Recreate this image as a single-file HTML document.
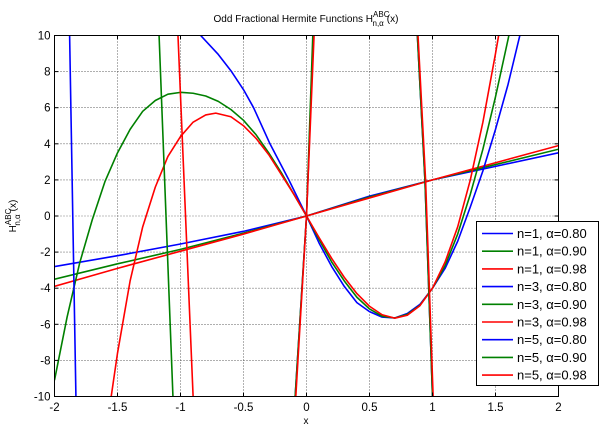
<!DOCTYPE html>
<html><head><meta charset="utf-8"><style>
html,body{margin:0;padding:0;background:#fff;overflow:hidden;width:601px;height:432px;}
svg{display:block;font-family:"Liberation Sans",Arial,sans-serif;}
</style></head><body>
<svg id="chart" width="601" height="432" viewBox="0 0 601 432">
<rect x="0" y="0" width="601" height="432" fill="#fff"/>
<defs><clipPath id="clip"><rect x="54.5" y="35.5" width="504" height="361"/></clipPath></defs>
<rect x="54.5" y="35.5" width="504" height="361" fill="#fff" stroke="none"/>
<g id="grid"></g>
<g id="series" clip-path="url(#clip)"></g>
<rect x="54.5" y="35.5" width="504" height="361" fill="none" stroke="#000" stroke-width="1"/>
<g id="ticks"></g>
<text x="306" y="22" font-size="10" text-anchor="middle">Odd Fractional Hermite Functions H<tspan font-size="8" dy="-5">ABC</tspan><tspan font-size="8" dx="-17" dy="9">n,α</tspan><tspan dy="-4" dx="3">(x)</tspan></text>
<text x="306" y="424" font-size="10" text-anchor="middle">x</text>
<text transform="translate(16,216) rotate(-90)" font-size="10" text-anchor="middle">H<tspan font-size="8" dy="-5">ABC</tspan><tspan font-size="8" dx="-17" dy="9">n,α</tspan><tspan dy="-4" dx="3">(x)</tspan></text>
<g id="legend"></g>
</svg>
<script>
const xTicks=[-2,-1.5,-1,-0.5,0,0.5,1,1.5,2];
const xTickLabels=["-2","-1.5","-1","-0.5","0","0.5","1","1.5","2"];
const yTicks=[-10,-8,-6,-4,-2,0,2,4,6,8,10];
const yTickLabels=["-10","-8","-6","-4","-2","0","2","4","6","8","10"];
const seriesNames=["n=1, α=0.80","n=1, α=0.90","n=1, α=0.98","n=3, α=0.80","n=3, α=0.90","n=3, α=0.98","n=5, α=0.80","n=5, α=0.90","n=5, α=0.98"];
const seriesColors=["#0000ff","#008000","#ff0000","#0000ff","#008000","#ff0000","#0000ff","#008000","#ff0000"];
const n1bX=[-2,-1.5,-1,-0.5,0,0.5,1,1.5,2];
const n1bY=[-2.8,-2.2,-1.55,-0.85,0,1.1,2,2.75,3.5];
const n1gX=[-2,-1.5,-1,-0.5,0,0.5,1,1.5,2];
const n1gY=[-3.5,-2.65,-1.85,-0.95,0,1.05,2,2.85,3.7];
const n1rX=[-2,-1.5,-1,-0.5,0,0.5,1,1.5,2];
const n1rY=[-3.9,-2.9,-1.95,-1,0,1,2,2.95,3.9];
const n3bX=[-0.84,-0.7,-0.6,-0.5,-0.42,-0.29,-0.14,0,0.1,0.2,0.3,0.4,0.5,0.6,0.7,0.8,0.9,1.0,1.1,1.2,1.3,1.4,1.5,1.6,1.7];
const n3bY=[10,8.95,8.05,7.0,6,4,2,0,-1.5,-2.8,-3.9,-4.8,-5.3,-5.6,-5.65,-5.4,-4.9,-4,-2.9,-1.4,0.5,2.5,4.8,7.3,10.2];
const n3gX=[-2,-1.9,-1.8,-1.7,-1.6,-1.5,-1.4,-1.3,-1.2,-1.1,-1.0,-0.9,-0.8,-0.7,-0.6,-0.5,-0.4,-0.3,-0.2,-0.1,0,0.1,0.2,0.3,0.4,0.5,0.6,0.7,0.8,0.9,1.0,1.1,1.2,1.3,1.4,1.5,1.6,1.63];
const n3gY=[-9.1,-5.6,-2.6,-0.2,1.9,3.5,4.8,5.8,6.4,6.75,6.85,6.8,6.65,6.35,5.9,5.3,4.5,3.5,2.4,1.2,0,-1.3,-2.55,-3.6,-4.5,-5.15,-5.55,-5.65,-5.45,-4.95,-4,-2.75,-1.0,1.2,3.7,6.6,9.8,10.8];
const n3rX=[-1.58,-1.55,-1.5,-1.4,-1.3,-1.2,-1.1,-1.0,-0.9,-0.8,-0.72,-0.6,-0.5,-0.4,-0.3,-0.2,-0.1,0,0.1,0.2,0.3,0.4,0.5,0.6,0.7,0.8,0.9,1.0,1.1,1.2,1.3,1.4,1.5,1.55];
const n3rY=[-11,-10,-7.6,-3.6,-0.6,1.6,3.3,4.4,5.2,5.6,5.7,5.5,5.0,4.3,3.4,2.3,1.2,0,-1.2,-2.35,-3.4,-4.3,-5,-5.47,-5.66,-5.5,-4.97,-4,-2.55,-0.6,2.0,5.2,9,11];
const n5bX=[-1.89,-1.88,-1.83,-1.828,-0.092,-0.09,0,0.055,0.06,0.875,0.88,0.94,0.97,1.0,1.005];
const n5bY=[11,10,-10,-11,-11,-10,0,10,11,11,10,2,-4,-10,-11];
const n5gX=[-1.175,-1.17,-1.06,-1.055,-0.092,-0.09,0,0.05,0.055,0.875,0.88,0.94,0.97,1.0,1.005];
const n5gY=[11,10,-10,-11,-11,-10,0,10,11,11,10,2,-4,-10,-11];
const n5rX=[-1.025,-1.02,-0.9,-0.895,-0.088,-0.085,0,0.06,0.065,0.88,0.885,0.945,0.975,1.005,1.01];
const n5rY=[11,10,-10,-11,-11,-10,0,10,11,11,10,2,-4,-10,-11];
const seriesX=[n1bX,n1gX,n1rX,n3bX,n3gX,n3rX,n5bX,n5gX,n5rX];
const seriesY=[n1bY,n1gY,n1rY,n3bY,n3gY,n3rY,n5bY,n5gY,n5rY];

const NS="http://www.w3.org/2000/svg";
const L=54.5,R=558.5,T=35.5,B=396.5;
function sx(v){return L+(v+2)/4*(R-L);}
function sy(v){return B-(v+10)/20*(B-T);}
function mk(tag,attrs,parent){const e=document.createElementNS(NS,tag);for(const k in attrs)e.setAttribute(k,attrs[k]);parent.appendChild(e);return e;}
const grid=document.getElementById('grid'),ticks=document.getElementById('ticks');
xTicks.forEach((v,i)=>{
  const x=sx(v);
  const g=mk('line',{x1:x,x2:x,y1:T,y2:B,stroke:'#000','stroke-width':0.6,'stroke-dasharray':'1,2'},grid);
  
  
  const t1=mk('line',{x1:x,x2:x,y1:B,y2:B-4,stroke:'#000','stroke-width':1},ticks);
  
  
  const t2=mk('line',{x1:x,x2:x,y1:T,y2:T+4,stroke:'#000','stroke-width':1},ticks);
  
  
  const lb=mk('text',{x:x,y:411,'font-size':11.5,'text-anchor':'middle'},ticks);
  lb.textContent=xTickLabels[i];
  
  
});
yTicks.forEach((v,i)=>{
  const y=sy(v);
  const g=mk('line',{x1:L,x2:R,y1:y,y2:y,stroke:'#000','stroke-width':0.6,'stroke-dasharray':'1,2'},grid);
  
  
  const t1=mk('line',{x1:L,x2:L+4,y1:y,y2:y,stroke:'#000','stroke-width':1},ticks);
  
  
  const t2=mk('line',{x1:R,x2:R-4,y1:y,y2:y,stroke:'#000','stroke-width':1},ticks);
  
  
  const lb=mk('text',{x:L-4,y:y+4,'font-size':11.5,'text-anchor':'end'},ticks);
  lb.textContent=yTickLabels[i];
  
  
});
const sg=document.getElementById('series');
seriesX.forEach((xs,i)=>{
  const pts=xs.map((x,j)=>sx(x).toFixed(2)+','+sy(seriesY[i][j]).toFixed(2)).join(' ');
  const p=mk('polyline',{points:pts,fill:'none',stroke:seriesColors[i],'stroke-width':1.6,'stroke-linejoin':'round'},sg);
  
  
});
const lg=document.getElementById('legend');
const box=mk('rect',{x:476.5,y:221.5,width:122,height:164,fill:'#fff',stroke:'#000','stroke-width':1},lg);


seriesNames.forEach((nm,i)=>{
  const y=233.5+i*17.7;
  const ln=mk('line',{x1:482,x2:513,y1:y,y2:y,stroke:seriesColors[i],'stroke-width':1.6},lg);
  
  
  const tx=mk('text',{x:517,y:y+4.5,'font-size':13},lg);
  tx.textContent=nm;
  
  
});
</script>
</body></html>
